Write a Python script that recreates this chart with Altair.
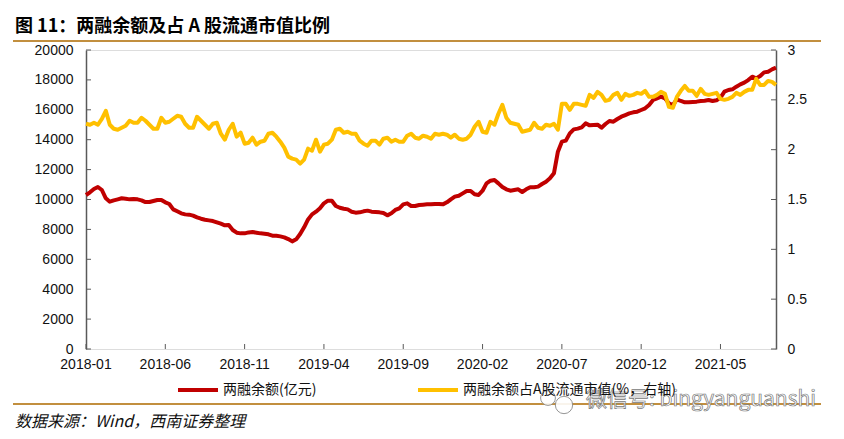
import altair as alt
import pandas as pd

trading_day = [min(i * 5, 870) for i in range(175)]

margin_balance = [
10300,10480,10700,10835,10635,10080,9855,9945,10010,10080,10055,10010,10030,10010,9945,9830,9830,9900,9965,9965,
9810,9700,9340,9210,9075,9005,8985,8920,8800,8715,8650,8605,8560,8470,8380,8270,8290,7960,7780,7735,
7735,7800,7825,7780,7735,7715,7670,7580,7580,7535,7470,7355,7200,7335,7690,8140,8670,9005,9185,9410,
9745,9920,9920,9565,9450,9385,9340,9185,9120,9140,9210,9255,9185,9165,9140,9095,8940,9075,9300,9410,
9675,9745,9565,9565,9630,9655,9675,9675,9700,9700,9675,9810,10010,10190,10255,10410,10570,10570,10345,10300,
10590,11080,11260,11305,11080,10835,10680,10590,10635,10680,10500,10680,10815,10815,10860,11035,11190,11415,11750,13200,
13870,13935,14425,14690,14740,14825,15095,14960,14985,15005,14805,15050,15250,15205,15385,15540,15650,15760,15830,15875,
15985,16100,16320,16655,16765,16880,16765,16430,16320,16700,16590,16500,16500,16520,16545,16590,16610,16655,16590,16635,
16810,17210,17325,17370,17545,17700,17815,17990,18215,18100,18260,18505,18550,18705,18820]

market_share = [
2.26,2.25,2.27,2.25,2.31,2.39,2.25,2.21,2.20,2.22,2.24,2.29,2.27,2.27,2.32,2.29,2.25,2.21,2.21,2.32,
2.27,2.28,2.31,2.34,2.33,2.26,2.22,2.22,2.33,2.29,2.25,2.21,2.26,2.27,2.16,2.10,2.20,2.26,2.13,2.17,
2.06,2.07,2.12,2.05,2.08,2.09,2.16,2.17,2.13,2.08,2.02,1.93,1.91,1.90,1.86,1.90,2.01,1.99,2.10,1.98,
2.05,2.06,2.10,2.20,2.21,2.17,2.18,2.16,2.16,2.09,2.06,2.04,2.09,2.09,2.05,2.11,2.12,2.08,2.10,2.08,
2.08,2.14,2.16,2.12,2.11,2.14,2.13,2.11,2.16,2.15,2.16,2.15,2.12,2.15,2.11,2.10,2.11,2.15,2.23,2.28,
2.18,2.17,2.28,2.25,2.36,2.45,2.32,2.27,2.26,2.25,2.18,2.19,2.20,2.27,2.22,2.21,2.25,2.24,2.26,2.20,
2.46,2.46,2.40,2.46,2.46,2.45,2.44,2.55,2.52,2.58,2.55,2.49,2.50,2.55,2.57,2.50,2.56,2.54,2.55,2.57,
2.56,2.59,2.53,2.53,2.55,2.58,2.56,2.43,2.42,2.53,2.59,2.64,2.59,2.59,2.54,2.61,2.56,2.55,2.56,2.57,
2.51,2.50,2.51,2.53,2.57,2.55,2.58,2.60,2.60,2.71,2.65,2.65,2.69,2.68,2.65]

x_tick_days = [0, 100, 200, 300, 400, 500, 600, 700, 800]
x_tick_labels = ["2018-01", "2018-06", "2018-11", "2019-04", "2019-09",
                 "2020-02", "2020-07", "2020-12", "2021-05"]
left_ticks = [0, 2000, 4000, 6000, 8000, 10000, 12000, 14000, 16000, 18000, 20000]
right_ticks = [0, 0.5, 1, 1.5, 2, 2.5, 3]

title_text = "图 11：两融余额及占 A 股流通市值比例"
source_text = "数据来源：Wind，西南证券整理"
watermark_text = "微信号: bingyanguanshi"
series_red = "两融余额(亿元)"
series_yellow = "两融余额占A股流通市值(%，右轴)"

CJK = "Noto Sans CJK SC"
LATIN = "Liberation Sans"
AXIS = "#595959"
INK = "#111111"
GOLD = "#C28F3F"

x_scale = alt.Scale(domain=[0, 870], nice=False, zero=False)
x_enc = alt.X("day:Q", scale=x_scale, axis=None)

df_red = pd.DataFrame({"day": trading_day, "v": margin_balance, "s": series_red})
df_yel = pd.DataFrame({"day": trading_day, "v": market_share, "s": series_yellow})

color = alt.Color(
    "s:N",
    scale=alt.Scale(domain=[series_red, series_yellow], range=["#C00000", "#FFC000"]),
    legend=alt.Legend(
        title=None, orient="none", legendX=90, legendY=318, columns=2, columnPadding=93,
        symbolType="stroke", symbolSize=1600, symbolStrokeWidth=4, labelFont=CJK,
        labelFontSize=14, labelColor=INK, labelOffset=3, labelLimit=320, padding=0,
    ),
)

red = alt.Chart(df_red).mark_line(strokeWidth=4, strokeJoin="round").encode(
    x=alt.X("day:Q", scale=x_scale, axis=alt.Axis(
        values=x_tick_days, labels=False, ticks=False, grid=False, title=None,
        domainColor=AXIS, domainWidth=1.5)),
    y=alt.Y("v:Q", scale=alt.Scale(domain=[0, 20000], nice=False), axis=alt.Axis(
        values=left_ticks, orient="left", ticks=False, grid=False, title=None, format="d",
        domainColor=AXIS, domainWidth=1.5, labelFont=LATIN, labelFontSize=14, labelColor=INK,
        labelPadding=13)),
    color=color,
)
yellow = alt.Chart(df_yel).mark_line(strokeWidth=4, strokeJoin="round").encode(
    x=x_enc,
    y=alt.Y("v:Q", scale=alt.Scale(domain=[0, 3], nice=False), axis=alt.Axis(
        values=right_ticks, orient="right", ticks=False, grid=False, title=None, format="~g",
        domainColor=AXIS, domainWidth=1.5, labelFont=LATIN, labelFontSize=14, labelColor=INK,
        labelPadding=11)),
    color=color,
)

df_x = pd.DataFrame({"day": x_tick_days, "label": x_tick_labels})
x_tick_layer = alt.Chart(df_x).mark_rule(color=AXIS, strokeWidth=1).encode(
    x=x_enc, y=alt.value(299), y2=alt.value(294))
x_label_layer = alt.Chart(df_x).mark_text(
    font=LATIN, fontSize=14, color=INK, align="center", baseline="middle"
).encode(x=x_enc, y=alt.value(315), text="label:N")
left_tick_layer = alt.Chart(pd.DataFrame({"v": left_ticks})).mark_rule(color=AXIS, strokeWidth=1).encode(
    y=alt.Y("v:Q", scale=alt.Scale(domain=[0, 20000], nice=False), axis=None),
    x=alt.value(0), x2=alt.value(5))
right_tick_layer = alt.Chart(pd.DataFrame({"v": right_ticks})).mark_rule(color=AXIS, strokeWidth=1).encode(
    y=alt.Y("v:Q", scale=alt.Scale(domain=[0, 3], nice=False), axis=None),
    x=alt.value(690), x2=alt.value(685))

OX, OY = 86, 50  # plot origin on the page, for the furniture around the plot


def rule(x0, x1, y):
    return alt.Chart(pd.DataFrame({"a": [0]})).mark_rule(color=GOLD, strokeWidth=2).encode(
        x=alt.value(x0 - OX), x2=alt.value(x1 - OX), y=alt.value(y - OY))


def text(t, x, y, **kw):
    return alt.Chart(pd.DataFrame({"t": [t]})).mark_text(align="left", baseline="middle", **kw).encode(
        x=alt.value(x - OX), y=alt.value(y - OY), text="t:N")


def bubble(x, y, size):
    return alt.Chart(pd.DataFrame({"a": [0]})).mark_point(
        shape="circle", filled=True, fill="white", stroke="#8c8c8c", strokeWidth=1, size=size, opacity=0.9
    ).encode(x=alt.value(x - OX), y=alt.value(y - OY))


chart = alt.layer(
    red, yellow, x_tick_layer, x_label_layer, left_tick_layer, right_tick_layer,
    rule(13, 821, 41), rule(13, 821, 404),
    text(title_text, 15, 27, font=CJK, fontSize=18, fontWeight="bold", color="#000000"),
    text(source_text, 15, 422, font=CJK, fontSize=16, fontStyle="italic", color=INK),
    bubble(548, 398, 220), bubble(564, 405, 300),
    text(watermark_text, 586, 400, font=CJK, fontSize=21, color="white", stroke="#777777", strokeWidth=0.7),
).resolve_scale(y="independent").properties(
    width=690, height=299,
    autosize=alt.AutoSizeParams(type="none"),
    padding={"left": 78, "top": 42, "right": 60, "bottom": 82},
).configure_view(stroke=None).configure(background="white")

chart.save("out.html", embed_options={"renderer": "svg", "actions": False})
